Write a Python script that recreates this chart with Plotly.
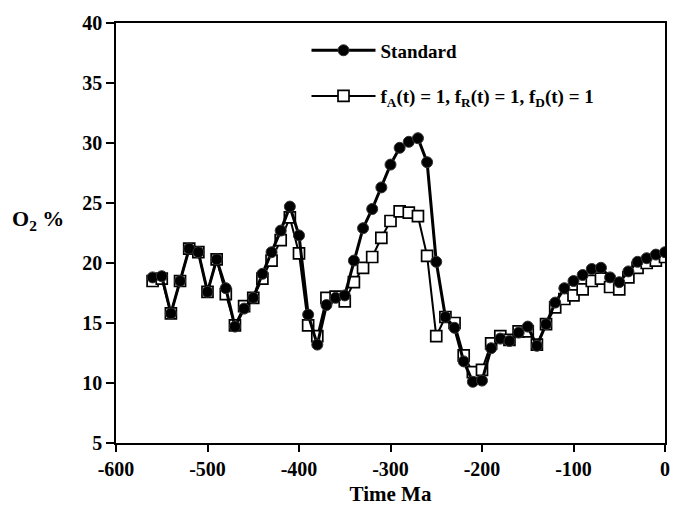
import plotly.graph_objects as go

time_ma = [-560, -550, -540, -530, -520, -510, -500, -490, -480, -470,
           -460, -450, -440, -430, -420, -410, -400, -390, -380, -370,
           -360, -350, -340, -330, -320, -310, -300, -290, -280, -270,
           -260, -250, -240, -230, -220, -210, -200, -190, -180, -170,
           -160, -150, -140, -130, -120, -110, -100, -90, -80, -70,
           -60, -50, -40, -30, -20, -10, 0]

standard = [18.8, 18.9, 15.8, 18.5, 21.2, 20.9, 17.6, 20.3, 17.9, 14.7,
            16.2, 17.1, 19.1, 20.9, 22.7, 24.7, 22.3, 15.7, 13.2, 16.5,
            17.1, 17.3, 20.2, 22.9, 24.5, 26.3, 28.2, 29.6, 30.1, 30.4,
            28.4, 20.1, 15.5, 14.6, 11.8, 10.1, 10.2, 12.9, 13.7, 13.5,
            14.2, 14.7, 13.1, 14.9, 16.7, 17.9, 18.5, 19.0, 19.5, 19.6,
            18.8, 18.4, 19.3, 20.1, 20.4, 20.7, 20.9]

f_unity = [18.5, 18.7, 15.8, 18.5, 21.2, 20.9, 17.6, 20.3, 17.4, 14.8,
           16.4, 17.1, 18.7, 20.2, 21.9, 23.8, 20.8, 14.8, 13.9, 17.1,
           17.2, 16.8, 18.4, 19.6, 20.5, 22.1, 23.5, 24.3, 24.2, 23.9,
           20.6, 13.9, 15.5, 15.0, 12.3, 10.9, 11.1, 13.3, 13.9, 13.6,
           14.3, 14.3, 13.2, 14.9, 16.3, 17.0, 17.3, 17.8, 18.5, 18.7,
           18.0, 17.8, 18.8, 19.6, 20.0, 20.2, 20.5]

y_ticks = [5, 10, 15, 20, 25, 30, 35, 40]
y_tick_text = ["5", "10", "15", "20", "25", "30", "35", "40"]
x_ticks = [-600, -500, -400, -300, -200, -100, 0]
x_tick_text = ["-600", "-500", "-400", "-300", "-200", "-100", "0"]

FONT = "Liberation Serif"

fig = go.Figure()
fig.add_trace(go.Scatter(
    x=time_ma, y=f_unity, mode="lines+markers", legendgroup="b",
    legendrank=2,
    name="<b>f<sub>A</sub>(t) = 1, f<sub>R</sub>(t) = 1, f<sub>D</sub>(t) = 1</b>",
    line=dict(color="black", width=2),
    marker=dict(symbol="square", size=11, color="white",
                line=dict(color="black", width=1.7)),
))
fig.add_trace(go.Scatter(
    x=time_ma, y=standard, mode="lines+markers", legendgroup="a",
    legendrank=1,
    name="<b>Standard</b>",
    line=dict(color="black", width=3),
    marker=dict(symbol="circle", size=11, color="black",
                line=dict(color="#333", width=1)),
))

axis_common = dict(
    showgrid=False, zeroline=False, showline=True, linecolor="black",
    linewidth=1.6, mirror=True, ticks="outside", tickcolor="black",
    tickwidth=1.6,
    tickfont=dict(family=FONT, size=20, color="black", weight="bold"),
)

fig.update_xaxes(range=[-600, 0], tickvals=x_ticks, ticktext=x_tick_text,
                 ticklen=7,
                 title=dict(text="Time Ma",
                            font=dict(family=FONT, size=21, color="black",
                                      weight="bold"),
                            standoff=8),
                 **axis_common)
fig.update_yaxes(range=[5, 40], tickvals=y_ticks, ticktext=y_tick_text,
                 ticklen=8, **axis_common)

fig.add_annotation(
    text="O<sub>2</sub> %", xref="paper", yref="paper",
    x=-0.091, y=0.53, xanchor="right", yanchor="middle", showarrow=False,
    font=dict(family=FONT, size=22, color="black", weight="bold"),
)

fig.update_layout(
    width=674, height=506,
    margin=dict(l=116, r=4, t=23, b=63),
    paper_bgcolor="white", plot_bgcolor="white",
    showlegend=True,
    legend=dict(x=0.347, y=0.98, xanchor="left", yanchor="top",
                traceorder="grouped", bgcolor="rgba(0,0,0,0)",
                font=dict(family=FONT, size=19, color="black"),
                tracegroupgap=18, itemwidth=64),
)

fig.write_html("out.html")
